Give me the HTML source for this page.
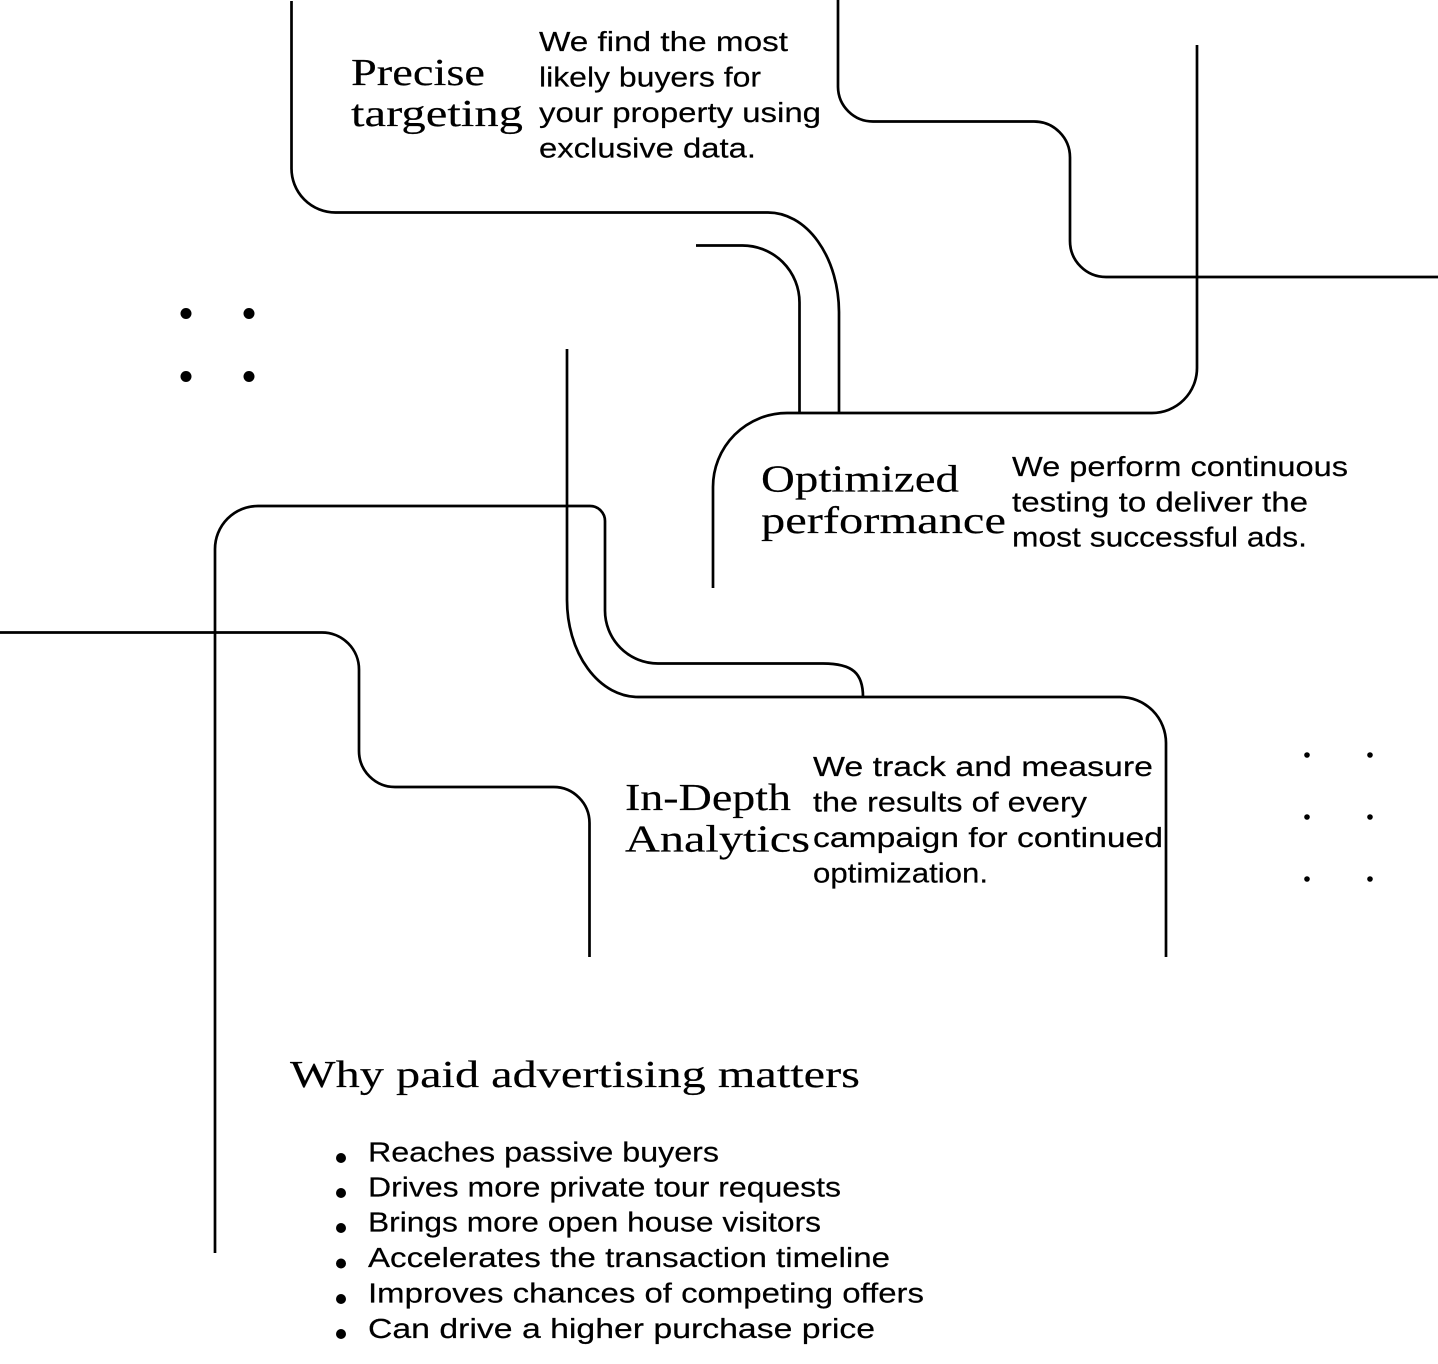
<!DOCTYPE html>
<html>
<head>
<meta charset="utf-8">
<style>
html,body{margin:0;padding:0;background:#fff;width:1438px;height:1364px;overflow:hidden}
svg{display:block}
.h{font-family:"Liberation Serif",serif;font-size:38px;fill:#000;stroke:#000;stroke-width:.15}
.b{font-family:"Liberation Sans",sans-serif;font-size:28px;fill:#000;stroke:#000;stroke-width:.2}
path{fill:none;stroke:#000;stroke-width:2.7}
circle{fill:#000}
</style>
</head>
<body>
<svg width="1438" height="1364" viewBox="0 0 1438 1364" xmlns="http://www.w3.org/2000/svg">
<path d="M291.500 1V168a44 44 0 0 0 44 44.500H768A71 100 0 0 1 839 312V413"/>
<path d="M838 0V87a35 35 0 0 0 35 34.500H1034a36 36 0 0 1 36 36V241a36 36 0 0 0 36 36H1438"/>
<path d="M696 245.500H742a57 57 0 0 1 57.500 57V413"/>
<path d="M1197 45V368a45 45 0 0 1 -45 45H787a74 74 0 0 0 -74 74V588"/>
<path d="M567 349V600A71 97 0 0 0 638 697H1120a46 46 0 0 1 46 46V957"/>
<path d="M215 1253V549a43 43 0 0 1 43 -43H590a15 15 0 0 1 15 15V610a53 53 0 0 0 53 53.500H823c30 0 40 10 40 33.500"/>
<path d="M0 632.500H322a37 37 0 0 1 37 37V751a36 36 0 0 0 36 36H553.500a36 36 0 0 1 36 36V957"/>

<circle cx="186" cy="313.500" r="5.500"/><circle cx="249" cy="313.500" r="5.500"/>
<circle cx="186" cy="376.500" r="5.500"/><circle cx="249" cy="376.500" r="5.500"/>
<circle cx="1307" cy="755" r="2.800"/><circle cx="1370" cy="755" r="2.800"/>
<circle cx="1307" cy="817" r="2.800"/><circle cx="1370" cy="817" r="2.800"/>
<circle cx="1307" cy="879" r="2.800"/><circle cx="1370" cy="879" r="2.800"/>

<text class="h" x="351" y="85" textLength="134" lengthAdjust="spacingAndGlyphs">Precise</text>
<text class="h" x="351" y="126" textLength="172" lengthAdjust="spacingAndGlyphs">targeting</text>
<text class="b" x="539" y="51" textLength="249" lengthAdjust="spacingAndGlyphs">We find the most</text>
<text class="b" x="539" y="86.500" textLength="222" lengthAdjust="spacingAndGlyphs">likely buyers for</text>
<text class="b" x="539" y="122" textLength="282" lengthAdjust="spacingAndGlyphs">your property using</text>
<text class="b" x="539" y="157.500" textLength="217" lengthAdjust="spacingAndGlyphs">exclusive data.</text>

<text class="h" x="761" y="491.500" textLength="198" lengthAdjust="spacingAndGlyphs">Optimized</text>
<text class="h" x="761" y="533" textLength="245" lengthAdjust="spacingAndGlyphs">performance</text>
<text class="b" x="1012" y="476" textLength="336" lengthAdjust="spacingAndGlyphs">We perform continuous</text>
<text class="b" x="1012" y="511.500" textLength="296" lengthAdjust="spacingAndGlyphs">testing to deliver the</text>
<text class="b" x="1012" y="546.500" textLength="295" lengthAdjust="spacingAndGlyphs">most successful ads.</text>

<text class="h" x="625" y="810" textLength="166" lengthAdjust="spacingAndGlyphs">In-Depth</text>
<text class="h" x="625" y="851.500" textLength="185" lengthAdjust="spacingAndGlyphs">Analytics</text>
<text class="b" x="813" y="776" textLength="340" lengthAdjust="spacingAndGlyphs">We track and measure</text>
<text class="b" x="813" y="811.500" textLength="274" lengthAdjust="spacingAndGlyphs">the results of every</text>
<text class="b" x="813" y="847" textLength="350" lengthAdjust="spacingAndGlyphs">campaign for continued</text>
<text class="b" x="813" y="882.500" textLength="175" lengthAdjust="spacingAndGlyphs">optimization.</text>

<text class="h" x="290" y="1087" textLength="570" lengthAdjust="spacingAndGlyphs">Why paid advertising matters</text>

<circle cx="341" cy="1158" r="5"/>
<circle cx="341" cy="1193" r="5"/>
<circle cx="341" cy="1228" r="5"/>
<circle cx="341" cy="1263.500" r="5"/>
<circle cx="341" cy="1299" r="5"/>
<circle cx="341" cy="1334" r="5"/>
<text class="b" x="368" y="1161.500" textLength="351" lengthAdjust="spacingAndGlyphs">Reaches passive buyers</text>
<text class="b" x="368" y="1196.500" textLength="473" lengthAdjust="spacingAndGlyphs">Drives more private tour requests</text>
<text class="b" x="368" y="1231.500" textLength="453" lengthAdjust="spacingAndGlyphs">Brings more open house visitors</text>
<text class="b" x="368" y="1267" textLength="522" lengthAdjust="spacingAndGlyphs">Accelerates the transaction timeline</text>
<text class="b" x="368" y="1302.500" textLength="556" lengthAdjust="spacingAndGlyphs">Improves chances of competing offers</text>
<text class="b" x="368" y="1338" textLength="507" lengthAdjust="spacingAndGlyphs">Can drive a higher purchase price</text>
</svg>
</body>
</html>
